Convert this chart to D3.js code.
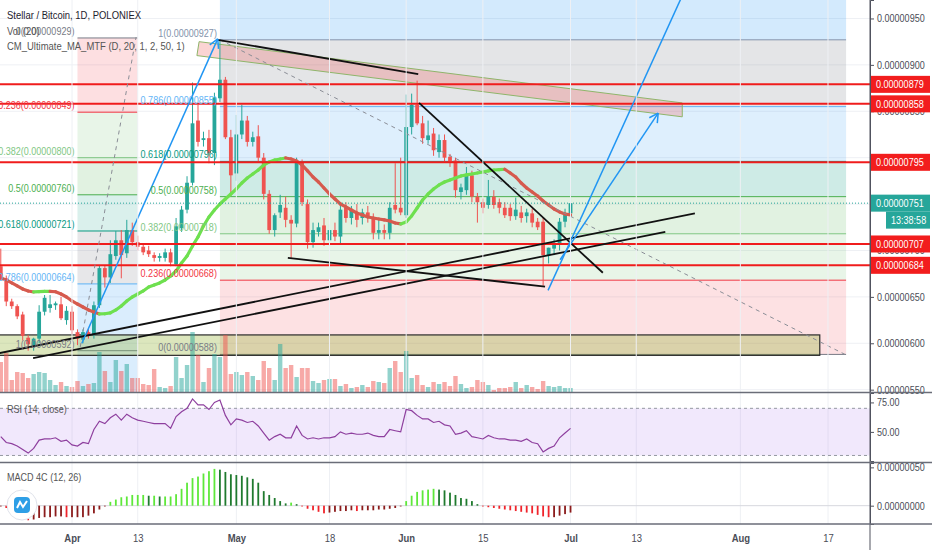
<!DOCTYPE html>
<html>
<head>
<meta charset="utf-8">
<script src="https://cdn.jsdelivr.net/npm/d3@7"></script>
<style>
body { margin: 0; background: #fff; }
svg text { font-family: "Liberation Sans", Arial, sans-serif; }
</style>
</head>
<body>
<div id="chart"></div>
<script>
// ---- datos (precios en satoshis, 1e-8 BTC) ----
const firstDay = new Date(Date.UTC(2020, 2, 19))
const days = d3.utcDay.range(firstDay, new Date(Date.UTC(2020, 6, 2)))

const open  = [683,670,645,640,631,606,597,605,634,638,641,642,625,634,612,604,612,609,641,681,671,694,711,697,722,709,704,700,695,692,692,698,685,724,744,773,840,819,821,805,864,884,822,783,825,840,817,823,800,761,722,741,746,733,729,795,750,709,720,727,711,722,715,746,735,741,735,741,735,719,722,719,749,746,738,833,857,837,819,826,806,819,801,797,763,765,781,758,752,749,758,752,746,746,737,741,737,740,731,731,695,702,708,731,740]
const high  = [702,673,648,642,634,609,606,641,652,652,645,650,640,640,615,615,616,645,684,684,711,721,722,733,730,716,708,705,698,697,702,702,735,748,780,881,857,828,830,870,927,887,830,846,857,845,828,835,805,765,740,760,758,738,800,798,755,730,730,735,728,730,750,752,748,750,745,748,740,735,728,752,794,800,868,869,883,845,840,832,825,825,804,800,772,790,786,762,756,776,765,756,752,750,757,748,745,745,735,735,703,712,735,745,761]
const low   = [668,640,637,626,603,592,592,600,630,633,636,625,620,610,598,600,605,605,638,660,665,690,670,692,705,700,695,693,688,688,688,683,683,720,740,770,812,812,794,792,860,820,760,775,820,812,812,795,755,718,715,735,725,692,725,748,702,703,715,705,705,710,708,730,728,725,728,730,712,712,712,712,740,738,735,825,835,815,815,802,800,795,790,757,755,760,752,730,740,745,745,740,735,732,733,730,730,725,722,662,686,695,700,725,735]
const close = [670,645,640,629,608,599,605,634,649,642,643,627,635,614,605,612,609,641,681,671,696,711,695,722,709,704,698,696,692,694,698,687,726,744,773,837,817,821,805,865,884,822,781,825,840,817,822,800,761,722,738,749,733,729,796,752,709,722,725,711,722,715,744,735,744,733,741,735,719,722,719,746,744,741,833,857,837,821,824,808,819,800,795,765,768,781,758,752,746,758,749,746,738,737,744,735,741,730,725,695,703,708,731,740,751]
const volume = [30,39,12,20,19,14,18,20,19,12,7,10,6,5,11,6,8,9,40,21,10,32,21,28,14,14,8,7,23,5,4,6,35,14,27,60,37,10,24,38,35,57,18,20,17,20,16,12,31,24,12,48,24,27,15,24,24,11,9,12,13,13,6,8,4,5,7,5,11,10,9,24,31,20,41,14,17,7,5,10,8,10,6,16,8,4,5,12,10,7,2,4,4,5,10,4,7,5,3,11,6,5,6,4,4]
// CM_Ultimate_MA_MTF (SMA 20)
const ma20 = [670.4,668.2,665.0,661.8,658.5,656.3,655.3,655.6,655.9,656.0,655.5,653.1,649.9,645.6,642.3,639.1,635.9,633.7,631.6,631.8,632.7,635.9,640.2,645.6,649.9,653.1,656.4,660.7,662.8,665.0,668.2,672.5,677.9,686.5,694.1,704.9,714.5,726.4,736.1,743.6,750.1,755.5,760.9,766.3,772.7,778.1,782.4,786.7,792.1,795.4,797.5,798.6,799.7,798.6,796.5,792.1,785.7,779.2,773.8,767.3,760.9,755.5,750.1,746.9,743.6,740.4,738.3,736.1,735.0,733.9,732.9,731.8,729.6,728.6,730.7,737.2,745.8,754.4,760.9,766.3,770.6,773.8,776.0,778.1,780.3,781.4,782.4,783.5,784.6,785.7,786.7,787.2,787.5,783.5,779.2,772.7,767.3,763.0,758.7,753.3,749.0,744.7,741.5,739.3,738.3]
const rsi = [46,41,40,38,35,32,36,43,44,44,45,42,43,39,38,41,40,52,59,57,62,65,60,65,62,60,59,58,57,57,57,53,63,67,70,78,73,73,69,75,77,64,56,61,60,58,59,55,49,43,46,48,45,45,55,47,44,45,44,45,45,46,50,48,49,48,48,49,47,46,46,52,51,50,69,68,64,61,61,58,59,56,55,48,49,51,46,45,44,47,45,44,44,43,43,42,44,41,40,33,36,38,45,49,53]
const macdHist = [-1,-3,-6,-10,-15,-19,-18,-16,-15,-15,-14,-14,-15,-15,-15,-15,-13,-10,-5,-1,5,8,11,12,14,14,14,13,13,12,12,12,15,22,30,36,38,42,45,48,47,44,41,40,39,37,35,30,19,14,10,6,3,4,2,-1,-4,-6,-8,-10,-9,-8,-7,-7,-6,-7,-6,-6,-6,-5,-5,-4,-3,-1,6,13,18,20,21,22,21,20,17,14,10,9,6,2,-1,-2,-3,-4,-5,-6,-7,-8,-9,-10,-12,-14,-15,-15,-13,-11,-9]

const priceTicks = [550,600,650,700,750,800,850,900,950]
const rsiTicks = [50, 75]
const rsiBand = [30, 70]
const macdTicks = [0, 50]
const dateTicks = [[2020,3,1],[2020,3,13],[2020,4,1],[2020,4,18],[2020,5,1],[2020,5,15],[2020,6,1],[2020,6,13],[2020,7,1],[2020,7,17]].map(d => new Date(Date.UTC(d[0], d[1], d[2])))
const levels = [879, 858, 795, 707, 684]
const lastPrice = 751
const countdown = "13:38:58"

// fibos: [ratio, precio], anclados en indice de dia
const fibLeftRatio = [0, 0.236, 0.382, 0.5, 0.618, 0.786, 1]
const fibLeftPrice = [929, 849, 800, 760, 721, 664, 592]
const fibLeftDays = [14, 25]
const fibRightRatio = [1, 0.786, 0.618, 0.5, 0.382, 0.236, 0]
const fibRightPrice = [927, 855, 796, 758, 718, 668, 588]
const fibRightDays = [40, 154.3]

// dibujos: [indice de dia, precio]
const blackLines = [[[39.6,927],[76.2,890]], [[76.35,859],[109.9,676]], [[52.4,692],[99.35,661]], [[-0.2,589.5],[126.7,740]], [[5.9,584],[121.3,720]]]
const blueArrows = [[[14.8,600],[39.6,928]], [[102.1,690],[120,848]]]
const blueLines = [[[99.9,657],[124.2,972]]]
const dashLines = [[[14.5,596],[24.7,930]], [[40,927],[154.1,588]]]
const pinkBand = [[36.2,925],[124.4,859],[124.4,844],[35.8,910]]
const oliveBox = [[-1,609],[149.5,587]]
const blueBoxRight = [[40,990],[154.3,927]]
const blueBoxLeft = [[14,664],[25,540]]

// ---- layout ----
const width = 932, height = 550
const axisX = 870
const mainBottom = 392, rsiTop = 393, rsiBottom = 462, macdTop = 463, macdBottom = 524

const svg = d3.select("#chart").append("svg").attr("width", width).attr("height", height)
    .style("display", "block")
svg.append("rect").attr("width", width).attr("height", height).attr("fill", "#fff")

// escalas
const x = d3.scaleUtc().domain([new Date(Date.UTC(2020, 3, 1)), new Date(Date.UTC(2020, 7, 17))]).range([72, 828])
const dayX = i => x(new Date(firstDay.getTime() + i * 864e5))
const y = d3.scaleLinear().domain([547.5, 969.9]).range([mainBottom, 0])
const yVol = d3.scaleLinear().domain([0, 60]).range([mainBottom, mainBottom - 60])
const yRsi = d3.scaleLinear().domain([25.3, 83]).range([rsiBottom - 1, rsiTop])
const yMacd = d3.scaleLinear().domain([-23.9, 55.7]).range([macdBottom, macdTop])
const fmtP = v => (v / 1e8).toFixed(8)
const pt = p => [dayX(p[0]), y(p[1])]

svg.append("clipPath").attr("id", "clipMain").append("rect").attr("width", axisX).attr("height", mainBottom)
const main = svg.append("g").attr("clip-path", "url(#clipMain)")

// grid
main.selectAll(".hgrid").data(priceTicks).enter().append("line")
    .attr("x1", 0).attr("x2", axisX).attr("y1", d => y(d)).attr("y2", d => y(d))
    .attr("stroke", "#eef0f4")
svg.selectAll(".vgrid").data(dateTicks).enter().append("line")
    .attr("x1", d => x(d)).attr("x2", d => x(d)).attr("y1", 0).attr("y2", macdBottom)
    .attr("stroke", "#eef0f4")

// zonas de fondo
function box(g, b, fill) {
    const a = pt(b[0]), c = pt(b[1])
    g.append("rect").attr("x", a[0]).attr("y", a[1]).attr("width", c[0] - a[0]).attr("height", c[1] - a[1]).attr("fill", fill)
}
box(main, blueBoxRight, "rgba(33,150,243,0.2)")

const leftZone = ["rgba(242,54,69,0.16)", "rgba(76,175,80,0.13)", "rgba(76,175,80,0.17)", "rgba(8,153,129,0.15)", "rgba(120,123,134,0.18)", "rgba(33,150,243,0.0)"]
const leftLine = ["#787b86", "#f23645", "#81c784", "#4caf50", "#089981", "#64b5f6", "#787b86"]
const rightZone = ["rgba(120,123,134,0.2)", "rgba(33,150,243,0.15)", "rgba(8,153,129,0.2)", "rgba(76,175,80,0.17)", "rgba(76,175,80,0.13)", "rgba(242,54,69,0.15)"]
const rightLine = ["#8393ab", "#64b5f6", "#089981", "#4caf50", "#81c784", "#f23645", "#787b86"]

function fib(ratios, prices, span, zones, colors) {
    const g = main.append("g")
    const x0 = dayX(span[0]), x1 = dayX(span[1])
    prices.slice(1).forEach((p, i) => {
        g.append("rect").attr("x", x0).attr("width", x1 - x0)
            .attr("y", y(prices[i])).attr("height", y(p) - y(prices[i])).attr("fill", zones[i])
    })
    g.selectAll("line").data(prices).enter().append("line")
        .attr("x1", x0).attr("x2", x1).attr("y1", d => y(d)).attr("y2", d => y(d))
        .attr("stroke", (d, i) => colors[i]).attr("stroke-width", 1)
    return g
}
fib(fibLeftRatio, fibLeftPrice, fibLeftDays, leftZone, leftLine)
fib(fibRightRatio, fibRightPrice, fibRightDays, rightZone, rightLine)
box(main, blueBoxLeft, "rgba(33,150,243,0.17)")

// caja oliva
const ob = [pt(oliveBox[0]), pt(oliveBox[1])]
main.append("rect").attr("x", ob[0][0]).attr("y", ob[0][1]).attr("width", ob[1][0] - ob[0][0]).attr("height", ob[1][1] - ob[0][1])
    .attr("fill", "rgba(150,180,55,0.33)").attr("stroke", "#2a2a2a").attr("stroke-width", 1.2)

// banda rosa
main.append("polygon").attr("points", pinkBand.map(p => pt(p).join(",")).join(" "))
    .attr("fill", "rgba(239,83,80,0.25)").attr("stroke", "#8fb56a").attr("stroke-width", 1)

// volumen
const bodyW = 3.8
main.selectAll(".vol").data(days).enter().append("rect")
    .attr("x", (d, i) => dayX(i) - 2.2).attr("width", 4.4)
    .attr("y", (d, i) => yVol(volume[i])).attr("height", (d, i) => mainBottom - yVol(volume[i]))
    .attr("fill", (d, i) => close[i] >= open[i] ? "rgba(38,166,154,0.5)" : "rgba(239,83,80,0.5)")

// velas
const up = "#26a69a", down = "#ef5350"
const candle = main.selectAll(".candle").data(days).enter().append("g")
candle.append("line")
    .attr("x1", (d, i) => dayX(i)).attr("x2", (d, i) => dayX(i))
    .attr("y1", (d, i) => y(high[i])).attr("y2", (d, i) => y(low[i]))
    .attr("stroke", (d, i) => close[i] >= open[i] ? up : down).attr("stroke-width", 1)
candle.append("rect")
    .attr("x", (d, i) => dayX(i) - bodyW / 2).attr("width", bodyW)
    .attr("y", (d, i) => y(Math.max(open[i], close[i])))
    .attr("height", (d, i) => Math.max(1, Math.abs(y(open[i]) - y(close[i]))))
    .attr("fill", (d, i) => close[i] >= open[i] ? up : down)

// media movil
main.selectAll(".ma").data(ma20.slice(1)).enter().append("line")
    .attr("x1", (d, i) => dayX(i)).attr("y1", (d, i) => y(ma20[i]))
    .attr("x2", (d, i) => dayX(i + 1)).attr("y2", d => y(d))
    .attr("stroke", (d, i) => d >= ma20[i] ? "#6ee04f" : "#d65a4e")
    .attr("stroke-width", 3.2).attr("stroke-linecap", "round")

// lineas horizontales rojas y precio actual
main.selectAll(".lvl").data(levels).enter().append("line")
    .attr("x1", 0).attr("x2", axisX).attr("y1", d => y(d)).attr("y2", d => y(d))
    .attr("stroke", "#f01c1c").attr("stroke-width", 2)
main.append("line").attr("x1", 0).attr("x2", axisX).attr("y1", y(lastPrice)).attr("y2", y(lastPrice))
    .attr("stroke", up).attr("stroke-width", 1).attr("stroke-dasharray", "1,2")

// dibujos
const seg = (g, l, color, w, dash) => g.append("line")
    .attr("x1", pt(l[0])[0]).attr("y1", pt(l[0])[1]).attr("x2", pt(l[1])[0]).attr("y2", pt(l[1])[1])
    .attr("stroke", color).attr("stroke-width", w).attr("stroke-dasharray", dash || null)
dashLines.forEach(l => seg(main, l, "#8a8d96", 1, "4,4"))
blackLines.forEach(l => seg(main, l, "#111", 1.8))
blueLines.forEach(l => seg(main, l, "#2196f3", 1.5))
blueArrows.forEach(l => {
    seg(main, l, "#2196f3", 1.5)
    const a = pt(l[0]), b = pt(l[1])
    const ang = Math.atan2(b[1] - a[1], b[0] - a[0])
    ;[-0.5, 0.5].forEach(s => main.append("line")
        .attr("x1", b[0]).attr("y1", b[1])
        .attr("x2", b[0] - 10 * Math.cos(ang + s)).attr("y2", b[1] - 10 * Math.sin(ang + s))
        .attr("stroke", "#2196f3").attr("stroke-width", 1.5))
})

// etiquetas fibo
function fibLabels(ratios, prices, span, colors) {
    main.selectAll(null).data(prices).enter().append("text")
        .attr("x", dayX(span[0]) - 3).attr("y", d => y(d) - 3)
        .attr("text-anchor", "end").attr("font-size", 10.5)
        .attr("fill", (d, i) => colors[i])
        .text((d, i) => `${ratios[i]}(${fmtP(d)})`)
}
fibLabels(fibLeftRatio, fibLeftPrice, fibLeftDays, leftLine)
fibLabels(fibRightRatio, fibRightPrice, fibRightDays, rightLine)

// leyenda
svg.append("text").attr("x", 7).attr("y", 19).attr("font-size", 11).attr("fill", "#1e222d").text("Stellar / Bitcoin, 1D, POLONIEX")
svg.append("text").attr("x", 7).attr("y", 35).attr("font-size", 11).attr("fill", "#555").text("Vol (20)")
svg.append("text").attr("x", 7).attr("y", 50).attr("font-size", 11).attr("fill", "#555").text("CM_Ultimate_MA_MTF (D, 20, 1, 2, 50, 1)")

// ---- RSI ----
svg.append("rect").attr("x", 0).attr("width", axisX).attr("y", yRsi(rsiBand[1])).attr("height", yRsi(rsiBand[0]) - yRsi(rsiBand[1]))
    .attr("fill", "rgba(150,80,230,0.13)")
svg.selectAll(".band").data(rsiBand).enter().append("line")
    .attr("x1", 0).attr("x2", axisX).attr("y1", d => yRsi(d)).attr("y2", d => yRsi(d))
    .attr("stroke", "#9598a1").attr("stroke-dasharray", "3,3")
svg.append("path").datum(rsi)
    .attr("d", d3.line().x((d, i) => dayX(i)).y(d => yRsi(d)))
    .attr("fill", "none").attr("stroke", "#8e3f9e").attr("stroke-width", 1.2)
svg.append("text").attr("x", 7).attr("y", 413).attr("font-size", 10.5).attr("fill", "#555").text("RSI (14, close)")

// ---- MACD ----
svg.append("line").attr("x1", 0).attr("x2", axisX).attr("y1", yMacd(0)).attr("y2", yMacd(0)).attr("stroke", "#d6d8de")
svg.selectAll(".macd").data(macdHist).enter().append("rect")
    .attr("x", (d, i) => dayX(i) - 0.9).attr("width", 1.8)
    .attr("y", d => yMacd(Math.max(0, d))).attr("height", d => Math.abs(yMacd(d) - yMacd(0)))
    .attr("fill", (d, i) => {
        const prev = i > 0 ? macdHist[i - 1] : d
        if (d >= 0) return d >= prev ? "#5ee83a" : "#1f7a2e"
        return d < prev ? "#f0242b" : "#8c1c1c"
    })
svg.append("text").attr("x", 7).attr("y", 481).attr("font-size", 10.5).attr("fill", "#555").text("MACD 4C (12, 26)")
const logo = svg.append("g").attr("transform", "translate(22,505)")
logo.append("circle").attr("r", 15).attr("fill", "#fff").attr("stroke", "#e0e3eb")
logo.append("rect").attr("x", -8).attr("y", -8).attr("width", 16).attr("height", 16).attr("rx", 4).attr("fill", "#2e9fe6")
logo.append("path").attr("d", "M-5,3 L-2,-3 L1,2 L5,-4").attr("fill", "none").attr("stroke", "#fff").attr("stroke-width", 2)

// ---- ejes ----
const axisStyle = g => {
    g.select(".domain").attr("stroke", "#50535e")
    g.selectAll(".tick line").attr("stroke", "#50535e")
    g.selectAll(".tick text").attr("font-size", 10.5).attr("fill", "#4a4d57")
}
svg.append("g").attr("transform", `translate(${axisX},0)`)
    .call(d3.axisRight(y).tickValues(priceTicks).tickFormat(fmtP).tickSize(4).tickPadding(3))
    .call(axisStyle)
svg.append("g").attr("transform", `translate(${axisX},0)`)
    .call(d3.axisRight(yRsi).tickValues(rsiTicks).tickFormat(d3.format(".2f")).tickSize(4).tickPadding(3))
    .call(axisStyle)
svg.append("g").attr("transform", `translate(${axisX},0)`)
    .call(d3.axisRight(yMacd).tickValues(macdTicks).tickFormat(fmtP).tickSize(4).tickPadding(3))
    .call(axisStyle)
svg.append("line").attr("x1", axisX).attr("x2", axisX).attr("y1", 0).attr("y2", height).attr("stroke", "#50535e")

// etiquetas de precio en el eje
function priceTag(fill, yy, txt, x0) {
    svg.append("rect").attr("x", x0).attr("y", yy - 8.5).attr("width", width - 2 - x0).attr("height", 17).attr("fill", fill)
    svg.append("text").attr("x", x0 + 5).attr("y", yy + 4).attr("font-size", 10.5).attr("fill", "#fff").text(txt)
}
levels.forEach(v => priceTag("#f21d1d", y(v), fmtP(v), axisX + 1))
priceTag(up, y(lastPrice), fmtP(lastPrice), axisX + 1)
priceTag(up, y(lastPrice) + 17, countdown, axisX + 16)

// separadores de paneles
;[mainBottom + 0.5, rsiBottom + 0.5, macdBottom].forEach(v => svg.append("line")
    .attr("x1", 0).attr("x2", width).attr("y1", v).attr("y2", v).attr("stroke", "#6a6d78").attr("stroke-width", 1.5))

// eje de tiempo
const fmtDate = d => d.getUTCDate() === 1 ? d3.utcFormat("%b")(d) : d3.utcFormat("%-d")(d)
svg.append("g").attr("transform", `translate(0,${macdBottom})`)
    .call(d3.axisBottom(x).tickValues(dateTicks).tickFormat(fmtDate).tickSize(0).tickPadding(10))
    .call(g => g.select(".domain").remove())
    .call(g => g.selectAll(".tick text").attr("font-size", 11).attr("fill", "#4a4d57")
        .attr("font-weight", d => d.getUTCDate() === 1 ? "bold" : null))

// letra estrecha tipo Trebuchet
svg.selectAll("text").each(function () {
    const w = this.getComputedTextLength()
    d3.select(this).attr("textLength", w * 0.86).attr("lengthAdjust", "spacingAndGlyphs")
})
</script>
</body>
</html>
